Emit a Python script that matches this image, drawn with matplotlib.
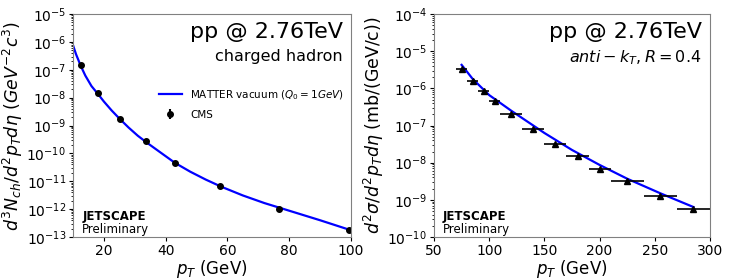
import numpy as np
import matplotlib
matplotlib.use("Agg")
import matplotlib.pyplot as plt
from matplotlib.ticker import LogLocator

# charged hadron spectrum (left panel)
hadron_pt = [12.5, 18.0, 25.2, 33.5, 43.2, 57.5, 76.8, 99.3]
hadron_cms = [1.5e-7, 1.45e-8, 1.75e-9, 2.7e-10, 4.5e-11, 6.6e-12, 1.0e-12, 1.8e-13]
hadron_err = [1.5e-8, 1.4e-9, 1.7e-10, 2.6e-11, 4.4e-12, 6.5e-13, 1.0e-13, 1.8e-14]
matter_pt = [10, 11, 12.5, 14, 16, 18, 20, 22.5, 25, 28, 31, 34, 38, 43, 48, 53, 58, 65, 72, 80, 90, 100]
matter_had = [7.7e-7, 3.6e-7, 1.4e-7, 6.2e-8, 2.6e-8, 1.4e-8, 7.3e-9, 3.5e-9, 1.8e-9,
              8.5e-10, 4.3e-10, 2.4e-10, 1.15e-10, 4.6e-11, 2.2e-11, 1.15e-11, 6.4e-12,
              3.1e-12, 1.65e-12, 8.8e-13, 4.0e-13, 1.75e-13]

# jet spectrum (right panel)
jet_pt = [75, 85, 95, 105, 120, 140, 160, 180, 200, 225, 255, 285]
jet_binw = [5, 5, 5, 5, 10, 10, 10, 10, 10, 15, 15, 15]
jet_cms = [3.3e-6, 1.6e-6, 8.5e-7, 4.6e-7, 2.1e-7, 8.1e-8, 3.2e-8, 1.5e-8, 6.9e-9, 3.3e-9, 1.3e-9, 5.8e-10]
matter_jpt = [75, 85, 100, 120, 150, 175, 200, 225, 255, 285]
matter_jet = [4.3e-6, 1.8e-6, 6.6e-7, 2.5e-7, 6.3e-8, 2.2e-8, 8.7e-9, 3.7e-9, 1.5e-9, 6.4e-10]

fig = plt.figure(figsize=(7.47, 2.8), dpi=100)
ax1 = fig.add_axes([0.0977, 0.1536, 0.372, 0.796])
ax2 = fig.add_axes([0.581, 0.1536, 0.3695, 0.796])

for ax in (ax1, ax2):
    ax.set_yscale("log")
    ax.yaxis.set_major_locator(LogLocator(base=10, numticks=20))
    ax.yaxis.set_minor_locator(LogLocator(base=10, subs=np.arange(2, 10), numticks=20))
    for s in ax.spines.values():
        s.set_color("0.5")
    ax.tick_params(labelsize=10, pad=2)
    ax.tick_params(which="major", length=3)
    ax.tick_params(which="minor", length=1.5)
    ax.text(0.033, 0.02, "Preliminary", transform=ax.transAxes, fontsize=8.5)
    ax.text(0.033, 0.076, "JETSCAPE", transform=ax.transAxes, fontsize=8.5, fontweight="bold")
    ax.text(0.97, 0.965, "pp @ 2.76TeV", transform=ax.transAxes, fontsize=16,
            ha="right", va="top")
    ax.set_xlabel(r"$p_T$ (GeV)", fontsize=12, labelpad=0)

# left
ax1.plot(matter_pt, matter_had, color="blue", lw=1.6, label=r"MATTER vacuum ($Q_0=1GeV$)")
ax1.errorbar(hadron_pt, hadron_cms, yerr=hadron_err, fmt="o", color="black", ms=4, label="CMS")
ax1.set_xlim(10, 100)
ax1.set_ylim(1e-13, 1e-5)
ax1.set_xticks([20, 40, 60, 80, 100])
ax1.set_ylabel(r"$d^3N_{ch}/d^2p_Td\eta$ ($GeV^{-2}c^3$)", fontsize=12.5, labelpad=1)
ax1.text(0.97, 0.845, "charged hadron", transform=ax1.transAxes, fontsize=11.5,
         ha="right", va="top")
ax1.legend(loc="upper right", bbox_to_anchor=(1.0, 0.70), frameon=False, fontsize=7.5,
           handlelength=2.2, borderaxespad=0.3, labelspacing=0.75)

# right
ax2.plot(matter_jpt, matter_jet, color="blue", lw=1.6)
ax2.errorbar(jet_pt, jet_cms, xerr=jet_binw, fmt="^", color="black", ms=4.5, lw=1.2)
ax2.set_xlim(50, 300)
ax2.set_ylim(1e-10, 1e-4)
ax2.set_ylabel(r"$d^2\sigma/d^2p_Td\eta$ (mb/(GeV/c))", fontsize=12.5, labelpad=1)
ax2.text(0.97, 0.845, r"$anti-k_T, R=0.4$", transform=ax2.transAxes, fontsize=11.5,
         ha="right", va="top")

fig.savefig("out.png", dpi=100)
